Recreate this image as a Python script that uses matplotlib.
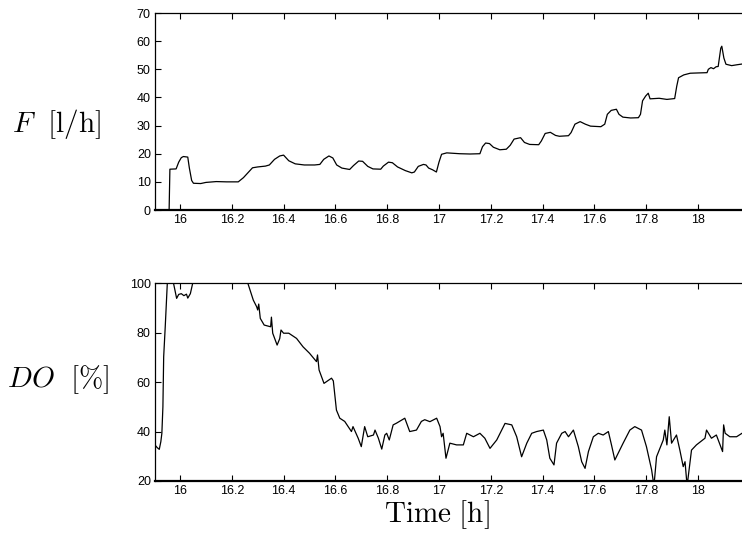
import matplotlib
matplotlib.use("Agg")
import matplotlib.pyplot as plt

# Feed rate F [l/h]
f_time = [15.903, 15.958, 15.961, 15.985, 15.995, 16.005, 16.013, 16.030, 16.036, 16.045,
          16.052, 16.080, 16.100, 16.140, 16.180, 16.225, 16.245, 16.265, 16.280, 16.300,
          16.330, 16.345, 16.365, 16.385, 16.400, 16.420, 16.445, 16.480, 16.520, 16.540,
          16.555, 16.575, 16.590, 16.605, 16.625, 16.655, 16.670, 16.690, 16.705, 16.725,
          16.745, 16.775, 16.785, 16.805, 16.820, 16.840, 16.870, 16.895, 16.905, 16.920,
          16.940, 16.950, 16.960, 16.975, 16.990, 17.000, 17.010, 17.030, 17.080, 17.120,
          17.158, 17.168, 17.180, 17.195, 17.210, 17.235, 17.260, 17.275, 17.290, 17.315,
          17.330, 17.350, 17.385, 17.395, 17.410, 17.430, 17.450, 17.465, 17.500, 17.510,
          17.525, 17.545, 17.565, 17.585, 17.625, 17.640, 17.650, 17.665, 17.685, 17.695,
          17.710, 17.740, 17.770, 17.778, 17.786, 17.798, 17.808, 17.815, 17.850, 17.880,
          17.910, 17.918, 17.925, 17.945, 17.970, 18.000, 18.035, 18.040, 18.050, 18.060,
          18.070, 18.078, 18.088, 18.092, 18.100, 18.108, 18.130, 18.150, 18.180]
f_vals = [0.0, 0.0, 14.5, 14.6, 17.0, 18.6, 19.0, 18.8, 15.0, 10.5,
          9.5, 9.4, 9.8, 10.1, 10.0, 10.0, 11.5, 13.5, 15.0, 15.3,
          15.6, 16.0, 18.0, 19.2, 19.5, 17.5, 16.4, 16.0, 16.0, 16.2,
          18.0, 19.2, 18.5, 16.0, 14.9, 14.4, 15.8, 17.4, 17.3, 15.5,
          14.6, 14.5, 15.6, 17.0, 16.8, 15.3, 14.0, 13.2, 13.5, 15.5,
          16.2, 16.0, 14.9, 14.3, 13.5, 17.0, 19.8, 20.3, 20.0, 19.9,
          20.0, 22.5, 23.8, 23.6, 22.3, 21.4, 21.6, 23.0, 25.2, 25.7,
          24.0, 23.3, 23.2, 24.5, 27.2, 27.6, 26.5, 26.2, 26.4, 27.5,
          30.5, 31.4, 30.5, 29.8, 29.6, 30.5, 34.0, 35.4, 35.8, 34.0,
          33.0, 32.7, 32.8, 34.0, 38.8, 40.5, 41.5, 39.5, 39.7, 39.3,
          39.6, 44.0, 47.0, 48.0, 48.6, 48.7, 48.8, 50.0, 50.6, 50.2,
          50.9, 51.0, 57.5, 58.2, 54.0, 51.8, 51.3, 51.6, 52.0]

# Dissolved oxygen DO [%] (saturated parts above 100)
do_time = [15.903, 15.912, 15.920, 15.926, 15.930, 15.934, 15.937, 15.943, 15.951, 15.955,
           15.972, 15.975, 15.987, 15.995, 16.005, 16.015, 16.025, 16.030, 16.040, 16.049,
           16.055, 16.255, 16.262, 16.283, 16.296, 16.300, 16.304, 16.310, 16.325, 16.350,
           16.353, 16.358, 16.375, 16.385, 16.390, 16.400, 16.420, 16.450, 16.475, 16.500,
           16.527, 16.531, 16.537, 16.556, 16.585, 16.592, 16.604, 16.617, 16.636, 16.662,
           16.668, 16.688, 16.700, 16.713, 16.725, 16.747, 16.753, 16.766, 16.779, 16.791,
           16.798, 16.808, 16.823, 16.836, 16.868, 16.887, 16.913, 16.932, 16.945, 16.965,
           16.991, 17.004, 17.010, 17.016, 17.027, 17.042, 17.068, 17.094, 17.107, 17.133,
           17.158, 17.177, 17.197, 17.223, 17.242, 17.255, 17.281, 17.300, 17.319, 17.339,
           17.358, 17.377, 17.403, 17.416, 17.428, 17.444, 17.454, 17.474, 17.487, 17.500,
           17.519, 17.538, 17.551, 17.564, 17.577, 17.596, 17.615, 17.634, 17.654, 17.666,
           17.679, 17.711, 17.737, 17.756, 17.782, 17.801, 17.821, 17.830, 17.840, 17.853,
           17.866, 17.872, 17.880, 17.889, 17.898, 17.917, 17.930, 17.943, 17.950, 17.958,
           17.975, 17.994, 18.027, 18.033, 18.052, 18.071, 18.095, 18.099, 18.105, 18.123,
           18.149, 18.170]
do_vals = [34.6, 33.5, 32.8, 35.9, 39.3, 50.0, 70.3, 82.4, 100.0, 110.0,
           110.0, 100.0, 93.9, 95.5, 95.8, 95.0, 95.6, 94.0, 95.8, 100.0,
           110.0, 110.0, 100.0, 93.2, 90.5, 89.2, 91.6, 85.8, 83.1, 82.4,
           86.3, 79.8, 75.0, 77.6, 81.1, 79.8, 79.8, 77.7, 74.3, 71.7,
           68.3, 71.0, 64.9, 59.5, 61.6, 60.5, 48.7, 45.4, 44.1, 40.0,
           42.0, 37.3, 33.9, 42.0, 37.9, 38.6, 40.6, 37.3, 32.9, 38.6,
           39.3, 36.6, 42.7, 43.4, 45.4, 40.0, 40.6, 44.1, 44.8, 44.0,
           45.4, 42.0, 37.9, 39.3, 29.2, 35.3, 34.6, 34.6, 39.3, 37.9,
           39.3, 37.3, 33.2, 36.6, 40.6, 43.3, 42.7, 37.9, 29.8, 35.3,
           39.3, 40.0, 40.6, 36.6, 29.2, 26.5, 35.3, 39.3, 40.0, 37.9,
           40.6, 33.9, 27.8, 25.1, 31.9, 37.9, 39.3, 38.6, 40.0, 34.6,
           28.5, 35.3, 40.6, 42.0, 40.6, 33.9, 24.5, 18.0, 29.8, 33.2,
           36.6, 40.6, 34.6, 46.0, 35.3, 38.6, 32.5, 25.8, 27.8, 18.0,
           32.5, 34.6, 37.3, 40.6, 37.3, 38.6, 31.9, 42.7, 39.3, 37.9,
           37.9, 39.3]

x_ticks = [16, 16.2, 16.4, 16.6, 16.8, 17, 17.2, 17.4, 17.6, 17.8, 18]
x_labels = ["16", "16.2", "16.4", "16.6", "16.8", "17", "17.2", "17.4", "17.6", "17.8", "18"]
f_ticks = [0, 10, 20, 30, 40, 50, 60, 70]
do_ticks = [20, 40, 60, 80, 100]

plt.rcParams["mathtext.fontset"] = "cm"
plt.rcParams["font.family"] = "Liberation Sans"

fig = plt.figure(figsize=(7.42, 5.33), dpi=100)
ax_f = fig.add_axes([0.2089, 0.6060, 0.7946, 0.3696])
ax_do = fig.add_axes([0.2089, 0.0976, 0.7946, 0.3709])

xlim = (15.9035, 18.18)


def style(ax, yticks):
    ax.set_xlim(*xlim)
    ax.set_xticks(x_ticks)
    ax.set_xticklabels(x_labels)
    ax.set_yticks(yticks)
    ax.tick_params(direction="in", length=4, width=0.8, labelsize=9, pad=3,
                   top=True, right=False, colors="black")
    for side in ("left", "top", "right"):
        ax.spines[side].set_linewidth(0.9)
    ax.spines["bottom"].set_linewidth(1.6)


ax_f.plot(f_time, f_vals, color="black", lw=0.9)
ax_f.set_ylim(0, 70)
style(ax_f, f_ticks)

ax_do.plot(do_time, do_vals, color="black", lw=0.9)
ax_do.set_ylim(20, 100)
style(ax_do, do_ticks)

fig.text(0.076, 0.767, r"$F\ \ [\mathrm{l/h}]$", fontsize=21, ha="center", va="center")
fig.text(0.079, 0.288, r"$DO\ \ [\%]$", fontsize=21, ha="center", va="center")
fig.text(0.589, 0.034, r"$\mathrm{Time\ [h]}$", fontsize=21, ha="center", va="center")

fig.savefig("out.png", dpi=100)
